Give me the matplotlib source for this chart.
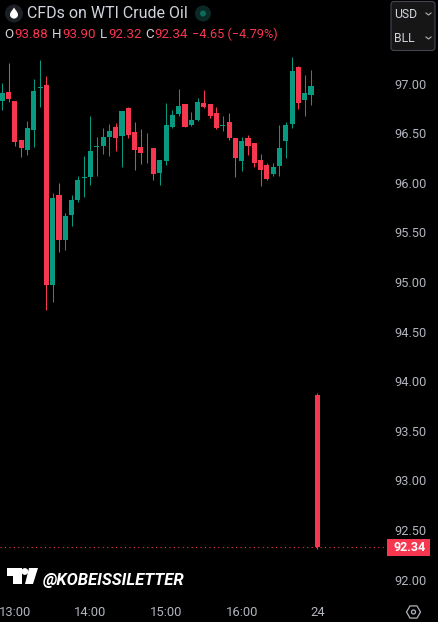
import matplotlib
matplotlib.use("Agg")
import matplotlib.pyplot as plt
from matplotlib.patches import Circle, Polygon, FancyBboxPatch, Rectangle, RegularPolygon, PathPatch
from matplotlib.path import Path

opens = [96.84,96.93,96.84,96.45,96.35,96.55,96.97,97.00,94.98,95.89,95.44,95.69,95.84,96.06,96.07,96.38,96.39,96.48,96.58,96.49,96.77,
         96.53,96.38,96.34,96.37,96.11,96.23,96.58,96.71,96.81,96.60,96.65,96.82,96.81,96.72,96.59,96.63,96.47,96.23,96.47,
         96.42,96.24,96.19,96.10,96.18,96.44,96.61,97.18,96.85,96.90,93.88]
highs = [97.02,97.22,96.84,96.45,96.64,97.06,97.25,97.09,95.91,96.01,95.71,95.89,96.08,96.285,96.69,96.48,96.57,96.61,96.62,96.74,96.78,
         96.63,96.56,96.52,96.37,96.24,96.82,96.75,96.96,96.81,96.73,96.87,96.95,96.81,96.78,96.69,96.72,96.47,96.48,96.50,
         96.42,96.30,96.21,96.21,96.60,96.63,97.28,97.19,97.10,97.15,93.90]
lows = [96.75,96.83,96.39,96.275,96.295,96.38,96.78,94.73,94.81,95.32,95.34,95.58,95.82,95.87,95.99,96.08,96.30,96.285,96.335,96.17,96.47,
        96.14,96.20,96.21,96.04,95.99,96.19,96.57,96.69,96.58,96.59,96.64,96.77,96.67,96.56,96.54,96.45,96.07,96.13,96.295,
        96.17,95.98,96.04,96.08,96.08,96.26,96.57,96.76,96.69,96.80,92.32]
closes = [96.92,96.86,96.43,96.37,96.57,96.94,96.98,94.98,95.86,95.44,95.68,95.84,96.04,96.07,96.335,96.39,96.48,96.54,96.47,96.74,96.50,
          96.35,96.315,96.35,96.10,96.24,96.60,96.70,96.79,96.58,96.65,96.83,96.78,96.69,96.57,96.60,96.47,96.26,96.44,96.39,
          96.21,96.14,96.05,96.17,96.37,96.60,97.14,96.82,96.92,96.99,92.34]

price_ticks = [92.0, 92.5, 93.0, 93.5, 94.0, 94.5, 95.0, 95.5, 96.0, 96.5, 97.0]
time_positions = [2, 14, 26, 38, 50]
time_labels = ["13:00", "14:00", "15:00", "16:00", "24"]
last_price = 92.34

GREEN = "#089981"
RED = "#F7374F"
GREY = "#B2B5BE"
FONT = "Roboto"
plt.rcParams["font.family"] = [FONT, "DejaVu Sans"]

W, H = 439, 622
fig = plt.figure(figsize=(W / 100, H / 100), dpi=100, facecolor="black")

ax = fig.add_axes([0, 22 / H, 385 / W, 600 / H], facecolor="black")
ax.set_xlim(-2.3 / 6.3, (385 - 2.3) / 6.3)
ax.set_ylim(97.857 - 0.01008 * 600, 97.857)
for s in ax.spines.values():
    s.set_visible(False)

for i, (o, h, l, c) in enumerate(zip(opens, highs, lows, closes)):
    col = GREEN if c >= o else RED
    ax.vlines(i, l, h, color=col, lw=0.75, zorder=2, snap=True)
    top, bot = max(o, c), min(o, c)
    ax.bar(i, top - bot, bottom=bot, width=0.8, color=col, linewidth=0, zorder=3)

ax.axhline(last_price, color=RED, lw=0.8, ls=(0, (1, 3)), zorder=1)

ax.yaxis.tick_right()
ax.set_yticks(price_ticks)
ax.set_yticklabels([f"{p:.2f}" for p in price_ticks], fontsize=9.2, color=GREY, va="center")
ax.tick_params(axis="y", length=0, pad=7)
ax.set_xticks(time_positions)
ax.set_xticklabels(time_labels, fontsize=9.4, color=GREY)
ax.tick_params(axis="x", length=0, pad=4)

ov = fig.add_axes([0, 0, 1, 1], facecolor="none")
ov.set_xlim(0, W)
ov.set_ylim(H, 0)
ov.axis("off")

ov.add_patch(Rectangle((387, 539), 43, 17, fc=RED, ec="none"))
ov.text(410, 547.5, f"{last_price:.2f}", color="white", fontsize=9.0, fontweight="bold", ha="center", va="center")

ov.add_patch(Circle((14, 13.5), 9, fc="#1C2024", ec="none"))
C = Path.CURVE4
drop = Path([(14, 7.5), (12.8, 9.8), (10, 12), (10, 14.8), (10, 17), (12, 18.6), (14, 18.6),
             (16, 18.6), (18, 17), (18, 14.8), (18, 12), (15.2, 9.8), (14, 7.5)],
            [Path.MOVETO] + [C] * 12)
ov.add_patch(PathPatch(drop, fc="white", ec="none"))
ov.text(27, 14, "CFDs on WTI Crude Oil", color="#D1D4DC", fontsize=11.5, ha="left", va="center")
ov.add_patch(Circle((203, 13.5), 8, fc="#0B2A26", ec="none"))
ov.add_patch(Circle((203, 13.5), 3, fc="#0C6B5B", ec="none"))

row = [(4, "O", "#D1D4DC"), (14, f"{opens[-1]:.2f}", RED), (52, "H", "#D1D4DC"), (62, f"{highs[-1]:.2f}", RED),
       (100, "L", "#D1D4DC"), (108, f"{lows[-1]:.2f}", RED), (145, "C", "#D1D4DC"), (154, f"{closes[-1]:.2f}", RED),
       (192, "\u22124.65 (\u22124.79%)", RED)]
for x, s, col in row:
    ov.text(x, 34, s, color=col, fontsize=9.2 if x == 192 else 9.6, ha="left", va="center")

ov.add_patch(FancyBboxPatch((391, 1.5), 44, 49, boxstyle="round,pad=0,rounding_size=3", fc="#161616", ec="#434651", lw=0.8))
ov.text(394, 14, "USD", color="#D1D4DC", fontsize=8.8, ha="left", va="center")
ov.text(394, 38, "BLL", color="#D1D4DC", fontsize=8.8, ha="left", va="center")
for y in (14, 38):
    ov.plot([426, 428.5, 431], [y - 1, y + 1, y - 1], color=GREY, lw=0.8)

ov.add_patch(Polygon([(7, 568), (22, 568), (22, 584), (13, 584), (13, 576), (7, 576)], fc="white", ec="none"))
ov.add_patch(Circle((24.8, 571.5), 3.4, fc="white", ec="none"))
ov.add_patch(Polygon([(29, 568), (38, 568), (33, 584), (25, 584)], fc="white", ec="none"))
ov.text(43, 580.5, "@KOBEISSILETTER", color="white", fontsize=12, fontweight="bold", fontstyle="italic", ha="left", va="center")

ov.add_patch(RegularPolygon((413.5, 612), 6, radius=7, orientation=0.5236, fc="none", ec=GREY, lw=0.9))
ov.add_patch(Circle((413.5, 612), 2, fc="none", ec=GREY, lw=0.9))

fig.savefig("out.png", dpi=100, facecolor="black")
